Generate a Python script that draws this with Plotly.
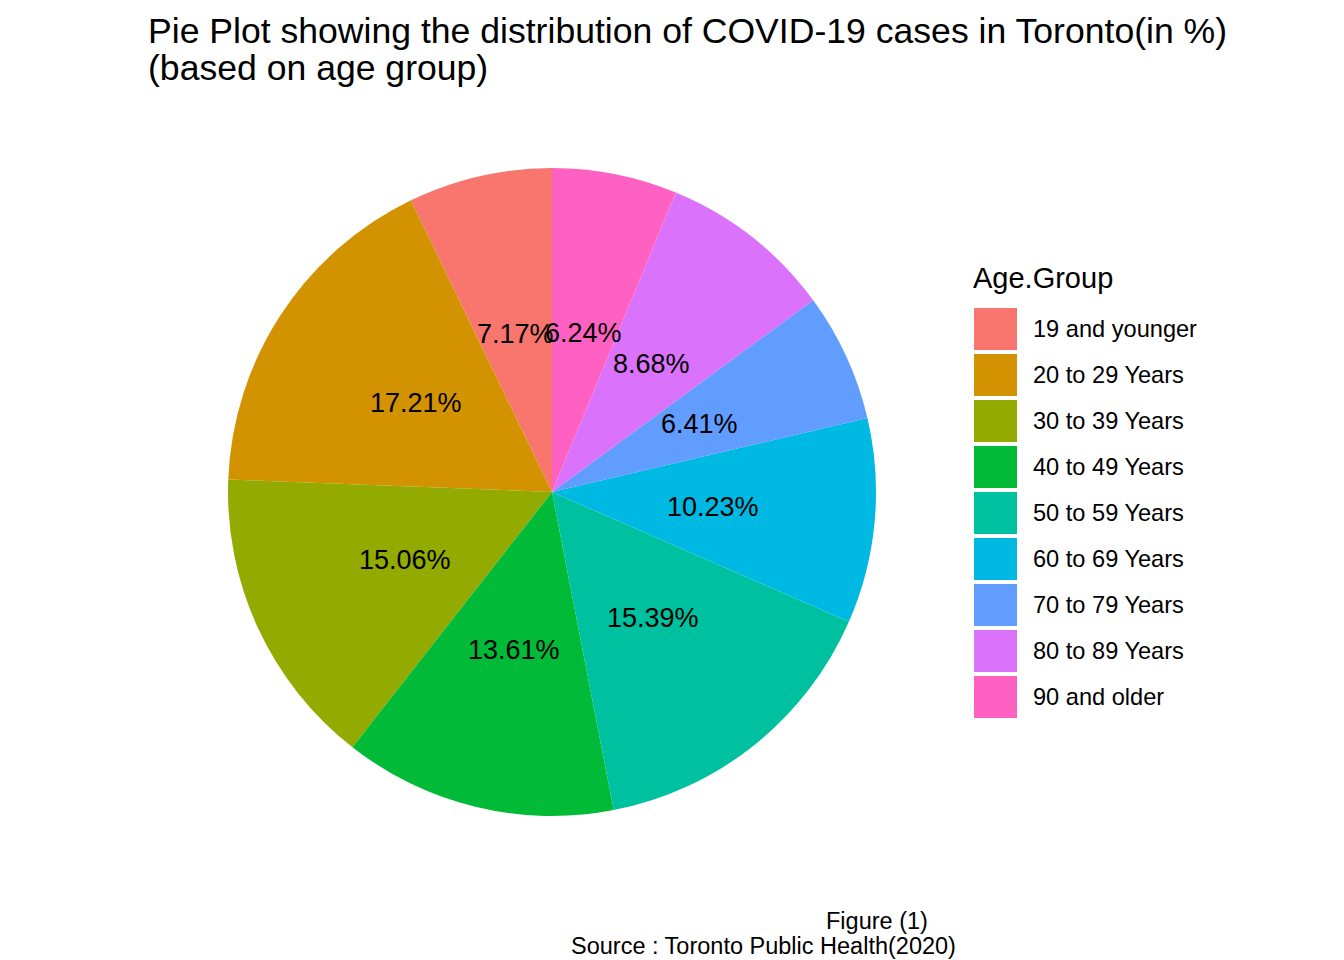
import numpy as np
import plotly.graph_objects as go

# ---- data ----
age_groups = ["19 and younger", "20 to 29 Years", "30 to 39 Years", "40 to 49 Years",
              "50 to 59 Years", "60 to 69 Years", "70 to 79 Years", "80 to 89 Years",
              "90 and older"]
percentages = [7.17, 17.21, 15.06, 13.61, 15.39, 10.23, 6.41, 8.68, 6.24]
colors = ["#F8766D", "#D39200", "#93AA00", "#00BA38", "#00C19F",
          "#00B9E3", "#619CFF", "#DB72FB", "#FF61C3"]
title_lines = ["Pie Plot showing the distribution of COVID-19 cases in Toronto(in %)",
               "(based on age group)"]
caption_lines = ["Figure (1)", "Source : Toronto Public Health(2020)"]
legend_title = "Age.Group"

W, H = 1344, 960
FONT = "Liberation Sans, Arial, Helvetica, sans-serif"

# pie geometry (pixels)
cx, cy, R = 552, 492, 324

def px(x):
    return x / W

def py(y):
    return 1 - y / H

vals = np.array(percentages)
total = vals.sum()

fig = go.Figure()
fig.add_trace(go.Pie(
    labels=age_groups, values=percentages, sort=False,
    direction="counterclockwise",
    # plotly places the first ccw slice ending at the rotation angle; shift so it starts at 12 o'clock
    rotation=-360 * vals[0] / total,
    marker=dict(colors=colors, line=dict(width=0)),
    textinfo="none", hoverinfo="label+value", showlegend=False,
    domain=dict(x=[px(cx - R), px(cx + R)], y=[py(cy + R), py(cy - R)]),
))

annotations = []
# slice labels at half radius, middle angle of each slice
cum = np.cumsum(vals) - vals / 2
for v, c in zip(vals, cum):
    ang = 2 * np.pi * c / total  # counterclockwise from top
    lx = cx - np.sin(ang) * R / 2
    ly = cy - np.cos(ang) * R / 2
    annotations.append(dict(x=px(lx), y=py(ly), xref="paper", yref="paper",
                            text=f"{v:.2f}%", showarrow=False,
                            xanchor="center", yanchor="middle",
                            font=dict(family=FONT, size=27, color="black")))

# title
for i, t in enumerate(title_lines):
    annotations.append(dict(x=px(146), y=py(31 + 37.5 * i), xref="paper", yref="paper",
                            text=t, showarrow=False, xanchor="left", yanchor="middle",
                            font=dict(family=FONT, size=35.6, color="black")))

# caption
cap_pos = [(930, 921), (958, 946)]
for t, (x, y) in zip(caption_lines, cap_pos):
    annotations.append(dict(x=px(x), y=py(y), xref="paper", yref="paper",
                            text=t, showarrow=False, xanchor="right", yanchor="middle",
                            font=dict(family=FONT, size=23.5, color="black")))

# legend (manual)
annotations.append(dict(x=px(971), y=py(278), xref="paper", yref="paper",
                        text=legend_title, showarrow=False, xanchor="left", yanchor="middle",
                        font=dict(family=FONT, size=29, color="black")))
shapes = []
for i, (lab, col) in enumerate(zip(age_groups, colors)):
    top = 308 + 46 * i
    shapes.append(dict(type="rect", xref="paper", yref="paper",
                       x0=px(974), x1=px(1017), y0=py(top + 42), y1=py(top),
                       fillcolor=col, line=dict(width=0)))
    annotations.append(dict(x=px(1031), y=py(top + 21), xref="paper", yref="paper",
                            text=lab, showarrow=False, xanchor="left", yanchor="middle",
                            font=dict(family=FONT, size=23.6, color="black")))

fig.update_layout(
    width=W, height=H,
    margin=dict(l=0, r=0, t=0, b=0),
    paper_bgcolor="white", plot_bgcolor="white",
    annotations=annotations, shapes=shapes,
    showlegend=False,
)

fig.write_html("out.html", config={"displayModeBar": False},
               post_script="document.body.style.margin='0px';")
